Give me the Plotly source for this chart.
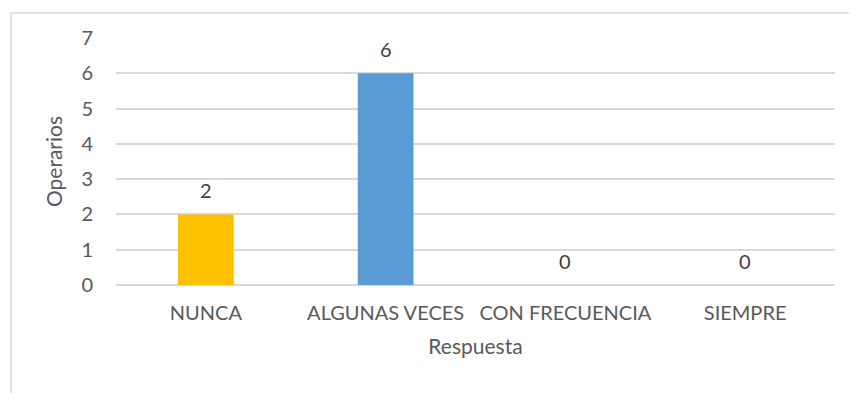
import plotly.graph_objects as go

categories = ["NUNCA", "ALGUNAS VECES", "CON FRECUENCIA", "SIEMPRE"]
values = [2, 6, 0, 0]
bar_colors = ["#FFC000", "#5B9BD5", "#A5A5A5", "#4472C4"]
y_ticks = [0, 1, 2, 3, 4, 5, 6, 7]
x_title = "Respuesta"
y_title = "Operarios"

FONT = "Lato, Open Sans, sans-serif"
TXT = "#595959"
GRID = "#D9D9D9"

OFF = 8  # page body margin
W, H = 857 - 2 * OFF, 401 - 2 * OFF
L = 116 - OFF
T = 38 - OFF
R = 857 - 835 - OFF
B = (401 - 285) - OFF
pw = W - L - R
ph = H - T - B

fig = go.Figure()
fig.add_trace(go.Bar(x=categories, y=values, marker=dict(color=bar_colors, line=dict(width=0)),
                     hoverinfo="skip"))

for c, v in zip(categories, values):
    fig.add_annotation(x=c, y=v, text=str(v), showarrow=False, yshift=24,
                       font=dict(family=FONT, size=20, color="#404040"))

base_y = H - B  # pixel y of baseline in fig coords
fig.add_shape(type="rect", xref="paper", yref="paper",
              x0=((11 - OFF) - L) / pw, x1=(W + 20 - L) / pw,
              y0=-(H + 20 - base_y) / ph, y1=(base_y - (13 - OFF)) / ph,
              line=dict(color=GRID, width=1.5), fillcolor="rgba(0,0,0,0)", layer="below")

fig.update_layout(
    width=W, height=H,
    margin=dict(l=L, r=R, t=T, b=B, autoexpand=False),
    paper_bgcolor="white", plot_bgcolor="white",
    bargap=0.69,
    showlegend=False,
    font=dict(family=FONT, color=TXT),
    xaxis=dict(title=dict(text=x_title, font=dict(size=21, color=TXT), standoff=16),
               tickfont=dict(size=20, color=TXT), showgrid=False, showline=False,
               ticks="outside", ticklen=10, tickcolor="white"),
    yaxis=dict(title=dict(text=y_title, font=dict(size=21, color=TXT), standoff=13),
               range=[0, 7], tickvals=y_ticks, tickfont=dict(size=20, color=TXT),
               showgrid=True, gridcolor=GRID, gridwidth=2, zeroline=True,
               zerolinecolor=GRID, zerolinewidth=2, showline=False,
               ticks="outside", ticklen=18, tickcolor="white"),
)

fig.write_html("out.html")
